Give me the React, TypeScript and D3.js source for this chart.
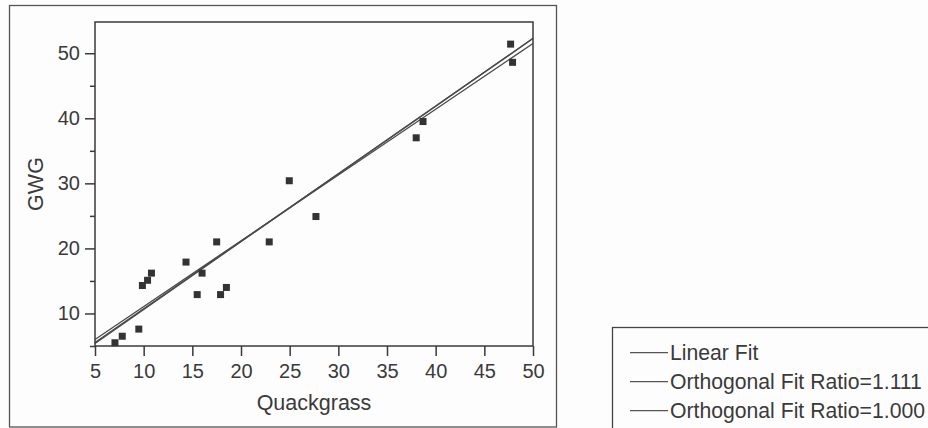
import * as d3 from 'd3';
import React, { useEffect, useRef } from 'react';

// Quackgrass vs GWG
const quackgrass = [7.05, 7.8, 9.5, 9.87, 10.4, 10.8, 14.35, 15.5, 16.0, 17.5, 17.9, 18.5, 22.9, 24.96, 27.7, 38.0, 38.7, 47.7, 47.9];
const gwg = [5.5, 6.5, 7.6, 14.3, 15.1, 16.2, 17.9, 12.9, 16.2, 21.0, 12.9, 14.0, 21.0, 30.4, 24.9, 37.0, 39.5, 51.4, 48.6];

// fitted lines (intercept + slope * x)
const fitLabels = ['Linear Fit', 'Orthogonal Fit Ratio=1.111', 'Orthogonal Fit Ratio=1.000'];
const fitIntercepts = [0.95, 0.35, 0.19];
const fitSlopes = [1.011, 1.038, 1.042];

const xTicks = [5, 10, 15, 20, 25, 30, 35, 40, 45, 50];
const yTicks = [10, 20, 30, 40, 50];
const yMinorTicks = [5, 15, 25, 35, 45];

export default function App() {
    const svgRef = useRef<SVGSVGElement>(null);
    const width = 928;
    const height = 428;
    const plot = { left: 95, right: 533, top: 22, bottom: 346 };
    const font = 'Liberation Sans, Arial, Helvetica, sans-serif';
    const ink = '#3a3a3a';

    useEffect(() => {
        const svg = d3.select(svgRef.current);
        svg.selectAll('*').remove();

        const xScale = d3.scaleLinear().domain([5, 50]).range([plot.left, plot.right]);
        const yScale = d3.scaleLinear().domain([5, 54.8]).range([plot.bottom, plot.top]);

        svg.append('rect')
            .attr('width', width).attr('height', height).attr('fill', '#fdfdfd');

        // outer frame
        svg.append('rect')
            .attr('x', 9.5).attr('y', 5.5)
            .attr('width', 547).attr('height', 421.5)
            .attr('fill', 'none').attr('stroke', '#555').attr('stroke-width', 1.3);

        // fit lines
        fitLabels.forEach((_, i) => {
            const line = d3.line<number>()
                .x(d => xScale(d))
                .y(d => yScale(fitIntercepts[i] + fitSlopes[i] * d));
            svg.append('path')
                .datum(xScale.domain())
                .attr('fill', 'none')
                .attr('stroke', '#4a4a4a')
                .attr('stroke-width', 1.3)
                .attr('d', line);
        });

        // points
        svg.append('g')
            .selectAll('rect')
            .data(quackgrass)
            .enter()
            .append('rect')
            .attr('x', (d) => xScale(d) - 3.5)
            .attr('y', (d, i) => yScale(gwg[i]) - 3.5)
            .attr('width', 7)
            .attr('height', 7)
            .attr('fill', '#333');

        // plot frame
        svg.append('rect')
            .attr('x', plot.left).attr('y', plot.top)
            .attr('width', plot.right - plot.left).attr('height', plot.bottom - plot.top)
            .attr('fill', 'none').attr('stroke', ink).attr('stroke-width', 1.5);

        const styleAxis = (g: any) => {
            g.select('.domain').remove();
            g.selectAll('.tick line').attr('stroke', ink).attr('stroke-width', 1.5);
            g.selectAll('.tick text')
                .attr('fill', ink)
                .attr('font-family', font)
                .attr('font-size', 20);
        };

        svg.append('g')
            .attr('transform', `translate(0,${plot.bottom})`)
            .call(d3.axisBottom(xScale).tickValues(xTicks).tickSize(10).tickPadding(8).tickFormat(d3.format('d')))
            .call(styleAxis);

        svg.append('g')
            .attr('transform', `translate(${plot.left},0)`)
            .call(d3.axisLeft(yScale).tickValues(yTicks).tickSize(10).tickPadding(5).tickFormat(d3.format('d')))
            .call(styleAxis);

        svg.append('g')
            .attr('transform', `translate(${plot.left},0)`)
            .call(d3.axisLeft(yScale).tickValues(yMinorTicks).tickSize(5).tickFormat(() => ''))
            .call(styleAxis);

        // axis titles
        svg.append('text')
            .attr('x', (plot.left + plot.right) / 2)
            .attr('y', 410)
            .attr('text-anchor', 'middle')
            .attr('font-family', font)
            .attr('font-size', 21.5)
            .attr('fill', ink)
            .text('Quackgrass');

        svg.append('text')
            .attr('transform', `translate(43,${(plot.top + plot.bottom) / 2}) rotate(-90)`)
            .attr('text-anchor', 'middle')
            .attr('font-family', font)
            .attr('font-size', 21.5)
            .attr('fill', ink)
            .text('GWG');

        // legend
        const legend = svg.append('g');
        legend.append('rect')
            .attr('x', 612.5).attr('y', 327.5)
            .attr('width', 400).attr('height', 140)
            .attr('fill', 'none').attr('stroke', '#444').attr('stroke-width', 1.3);

        fitLabels.forEach((label, i) => {
            const cy = 352.7 + i * 29;
            legend.append('line')
                .attr('x1', 630).attr('x2', 668)
                .attr('y1', cy).attr('y2', cy)
                .attr('stroke', '#555').attr('stroke-width', 1.3);
            legend.append('text')
                .attr('x', 670)
                .attr('y', cy + 7.3)
                .attr('font-family', font)
                .attr('font-size', 21.2)
                .attr('fill', ink)
                .text(label);
        });
    }, []);

    return (
        <svg
            ref={svgRef}
            width={width}
            height={height}
            style={{ position: 'absolute', left: 0, top: 0 }}
        />
    );
}
